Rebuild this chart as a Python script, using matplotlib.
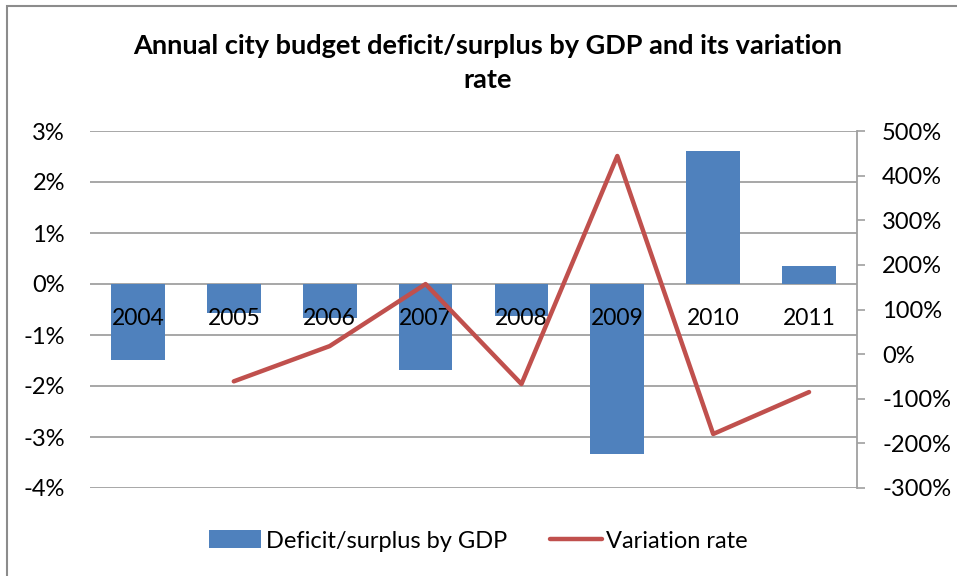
import numpy as np
import matplotlib.pyplot as plt
from matplotlib.patches import Rectangle
from matplotlib.ticker import FuncFormatter


# data
years = ["2004", "2005", "2006", "2007", "2008", "2009", "2010", "2011"]
deficit_pct = [-1.49, -0.57, -0.67, -1.68, -0.62, -3.34, 2.61, 0.35]
variation_years = ["2005", "2006", "2007", "2008", "2009", "2010", "2011"]
variation_pct = [-61, 18, 157, -67, 444, -179, -85]

left_ticks = [3, 2, 1, 0, -1, -2, -3, -4]
right_ticks = [500, 400, 300, 200, 100, 0, -100, -200, -300]

plt.rcParams["font.family"] = ["Lato", "DejaVu Sans"]

bar_col = "#4F81BD"
line_col = "#C0504D"
grid_col = "#A0A0A0"

fig = plt.figure(figsize=(9.57, 5.76), dpi=100)

# outer chart border
fig.patches.append(Rectangle((7 / 957, -0.1), 1.2, 1.1 - 6 / 576,
                             transform=fig.transFigure, fill=False,
                             edgecolor="#8C8C8C", linewidth=1.5))

ax = fig.add_axes([90 / 957, 1 - 488 / 576, (857 - 90) / 957, (488 - 131) / 576])
x = np.arange(len(years))

for t in left_ticks:
    ax.axhline(t, color=grid_col, linewidth=1.3, zorder=0.5)

ax.bar(x, deficit_pct, width=0.56, color=bar_col, zorder=1,
       label="Deficit/surplus by GDP")

ax.set_xlim(-0.5, len(years) - 0.5)
ax.set_ylim(-4, 3)
ax.set_yticks(left_ticks)
ax.yaxis.set_major_formatter(FuncFormatter(lambda v, p: f"{v:.0f}%"))
ax.tick_params(axis="y", length=0, pad=18, labelsize=17)
ax.set_axisbelow(False)

ax.set_xticks(x)
ax.set_xticklabels(years)
ax.spines["bottom"].set_position(("data", 0))
ax.spines["bottom"].set_visible(False)
ax.tick_params(axis="x", length=0, pad=17, labelsize=16.5)
for s in ["top", "left", "right"]:
    ax.spines[s].set_visible(False)

ax2 = ax.twinx()
xv = [years.index(y) for y in variation_years]
ax2.plot(xv, variation_pct, color=line_col, linewidth=3.2,
         solid_capstyle="round", label="Variation rate")
ax2.set_ylim(-300, 500)
ax2.set_yticks(right_ticks)
ax2.yaxis.set_major_formatter(FuncFormatter(lambda v, p: f"{v:.0f}%"))
ax2.tick_params(axis="y", direction="out", length=6, width=1.2,
                color=grid_col, pad=12, labelsize=17)
for s in ["top", "left", "bottom"]:
    ax2.spines[s].set_visible(False)
ax2.spines["right"].set_color(grid_col)
ax2.spines["right"].set_linewidth(1.3)

fig.text(0.51, 1 - 63 / 576,
         "Annual city budget deficit/surplus by GDP and its variation\nrate",
         ha="center", va="center", fontsize=19.5, fontweight="bold",
         linespacing=1.55)

h1, l1 = ax.get_legend_handles_labels()
h2, l2 = ax2.get_legend_handles_labels()
fig.legend(h1 + h2, l1 + l2, loc="center", bbox_to_anchor=(0.5, 1 - 541 / 576),
           ncol=2, frameon=False, fontsize=17, handlelength=2.2,
           handleheight=0.8, handletextpad=0.2, columnspacing=1.8)

fig.savefig("out.png", dpi=100)
